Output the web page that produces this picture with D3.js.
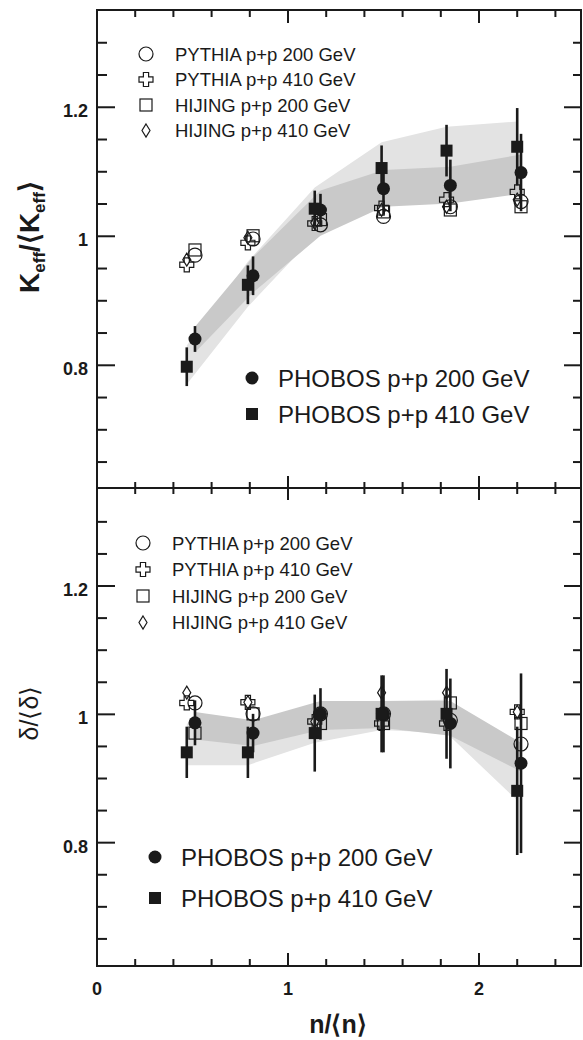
<!DOCTYPE html>
<html>
<head>
<meta charset="utf-8">
<script src="https://cdn.jsdelivr.net/npm/d3@7"></script>
<style>
  body { margin: 0; background: #fff; }
  svg { display: block; font-family: "Liberation Sans", Arial, Helvetica, sans-serif; }
</style>
</head>
<body>
<svg id="chart" width="583" height="1040"></svg>
<script>
// x positions of the multiplicity bins
const xPts200 = [0.513, 0.817, 1.17, 1.50, 1.85, 2.22];
const xPts410 = [0.47, 0.79, 1.14, 1.49, 1.83, 2.20];

// upper panel: K_eff / <K_eff>
const keffPhobos200 = [0.840, 0.938, 1.040, 1.073, 1.078, 1.098];
const keffPhobos200Err = [0.02, 0.03, 0.025, 0.04, 0.04, 0.06];
const keffPhobos410 = [0.797, 0.924, 1.042, 1.105, 1.132, 1.138];
const keffPhobos410Err = [0.03, 0.03, 0.028, 0.035, 0.04, 0.06];
const keffPythia200 = [0.970, 0.995, 1.017, 1.030, 1.045, 1.053];
const keffPythia410 = [0.955, 0.989, 1.019, 1.043, 1.056, 1.068];
const keffHijing200 = [0.978, 1.000, 1.025, 1.037, 1.040, 1.045];
const keffHijing410 = [0.963, 0.997, 1.020, 1.040, 1.045, 1.056];
const keffBand200Lo = [0.819, 0.912, 1.000, 1.045, 1.050, 1.065];
const keffBand200Hi = [0.859, 0.967, 1.070, 1.102, 1.107, 1.126];
const keffBand410Lo = [0.770, 0.890, 1.000, 1.060, 1.090, 1.100];
const keffBand410Hi = [0.830, 0.960, 1.075, 1.145, 1.169, 1.177];

// lower panel: delta / <delta>
const deltaPhobos200 = [0.986, 0.970, 1.000, 1.000, 0.985, 0.923];
const deltaPhobos200Err = [0.035, 0.03, 0.04, 0.06, 0.07, 0.14];
const deltaPhobos410 = [0.940, 0.940, 0.970, 1.000, 1.000, 0.880];
const deltaPhobos410Err = [0.04, 0.04, 0.06, 0.06, 0.07, 0.10];
const deltaPythia200 = [1.017, 1.000, 1.000, 1.000, 0.990, 0.953];
const deltaPythia410 = [1.017, 1.018, 0.988, 0.985, 0.985, 1.003];
const deltaHijing200 = [0.970, 1.000, 0.985, 0.985, 1.017, 0.985];
const deltaHijing410 = [1.033, 1.018, 0.988, 1.033, 1.033, 1.003];
const deltaBand200Lo = [0.960, 0.950, 0.975, 0.978, 0.966, 0.910];
const deltaBand200Hi = [1.003, 0.990, 1.020, 1.020, 1.020, 0.955];
const deltaBand410Lo = [0.920, 0.920, 0.955, 0.975, 0.970, 0.865];
const deltaBand410Hi = [0.985, 0.985, 1.005, 1.020, 1.022, 0.950];

// ticks and labels
const xMinorTicks = [0.2, 0.4, 0.6, 0.8, 1.2, 1.4, 1.6, 1.8, 2.2, 2.4];
const xMajorTicks = [0, 1, 2];
const xTickLabels = ["0", "1", "2"];
const yMinorTicks = [0.65, 0.7, 0.75, 0.85, 0.9, 0.95, 1.05, 1.1, 1.15, 1.25, 1.3];
const yMajorTicks = [0.8, 1.0, 1.2];
const yTickLabels = ["0.8", "1", "1.2"];
const modelLegend = ["PYTHIA p+p 200 GeV", "PYTHIA p+p 410 GeV", "HIJING p+p 200 GeV", "HIJING p+p 410 GeV"];
const phobosLegend = ["PHOBOS p+p 200 GeV", "PHOBOS p+p 410 GeV"];

const ink = "#1a1a1a";
const light = "#e3e3e3";
const dark = "#c9c9c9";

const svg = d3.select("#chart");

const x = d3.scaleLinear().domain([0, 2.534]).range([97, 581]);
const yTop = d3.scaleLinear().domain([0.609, 1.35]).range([488, 10]);
const yBot = d3.scaleLinear().domain([0.607, 1.352]).range([966, 488]);

// marker shapes
const crossPath = (a, l) => `M${-a},${-l}H${a}V${-a}H${l}V${a}H${a}V${l}H${-a}V${a}H${-l}V${-a}H${-a}Z`;
const diamondPath = (w, h) => `M0,${-h}L${w},0L0,${h}L${-w},0Z`;

function drawOpen(g, kind, cx, cy) {
    const m = g.append("g").attr("transform", `translate(${cx},${cy})`)
        .attr("fill", "none").attr("stroke", ink).attr("stroke-width", 1.2);
    if (kind == 0) m.append("circle").attr("r", 7);
    if (kind == 1) m.append("path").attr("d", crossPath(2.6, 7));
    if (kind == 2) m.append("rect").attr("x", -6).attr("y", -6).attr("width", 12).attr("height", 12);
    if (kind == 3) m.append("path").attr("d", diamondPath(4, 6.5));
}

function drawFilled(g, kind, cx, cy) {
    if (kind == 0) g.append("circle").attr("cx", cx).attr("cy", cy).attr("r", 6.5).attr("fill", ink);
    else g.append("rect").attr("x", cx - 6).attr("y", cy - 6).attr("width", 12).attr("height", 12).attr("fill", ink);
}

function drawPanel(cfg) {
    const y = cfg.y;
    const g = svg.append("g");

    // systematic bands: 410 GeV light under 200 GeV dark
    const area = d3.area().x(d => x(d[0])).y0(d => y(d[1])).y1(d => y(d[2]));
    g.append("path").attr("d", area(d3.zip(xPts410, cfg.band410Lo, cfg.band410Hi))).attr("fill", light);
    g.append("path").attr("d", area(d3.zip(xPts200, cfg.band200Lo, cfg.band200Hi))).attr("fill", dark);

    // model points
    const models = [[xPts200, cfg.pythia200], [xPts410, cfg.pythia410], [xPts200, cfg.hijing200], [xPts410, cfg.hijing410]];
    models.forEach((m, k) => m[0].forEach((xv, i) => drawOpen(g, k, x(xv), y(m[1][i]))));

    // PHOBOS data with error bars
    const phobos = [[xPts200, cfg.phobos200, cfg.phobos200Err], [xPts410, cfg.phobos410, cfg.phobos410Err]];
    phobos.forEach(p => p[0].forEach((xv, i) => {
        g.append("line").attr("x1", x(xv)).attr("x2", x(xv))
            .attr("y1", y(p[1][i] - p[2][i])).attr("y2", y(p[1][i] + p[2][i]))
            .attr("stroke", ink).attr("stroke-width", 2.6);
    }));
    phobos.forEach((p, k) => p[0].forEach((xv, i) => drawFilled(g, k, x(xv), y(p[1][i]))));

    // legends
    const lg = g.append("g").attr("font-size", 18.5).attr("fill", ink);
    modelLegend.forEach((t, k) => {
        const ry = cfg.modelLegY[k];
        drawOpen(lg, k, cfg.modelLegX, ry);
        lg.append("text").attr("x", cfg.modelLegX + 29).attr("y", ry).attr("dy", "0.36em").text(t);
    });
    const pg = g.append("g").attr("font-size", 24).attr("fill", ink);
    phobosLegend.forEach((t, k) => {
        const ry = cfg.phobosLegY[k];
        drawFilled(pg, k, cfg.phobosLegX, ry);
        pg.append("text").attr("x", cfg.phobosLegX + 26).attr("y", ry).attr("dy", "0.36em").text(t);
    });

    // y axes: ticks inside on both sides
    const [yb, yt] = y.range();
    g.append("g").attr("transform", `translate(${x.range()[0]},0)`)
        .call(d3.axisRight(y).tickValues(yMinorTicks).tickSize(10).tickFormat(""))
        .call(a => a.select(".domain").remove());
    g.append("g").attr("transform", `translate(${x.range()[0]},0)`)
        .call(d3.axisRight(y).tickValues(yMajorTicks).tickSize(18).tickFormat(""))
        .call(a => a.select(".domain").remove());
    g.append("g").attr("transform", `translate(${x.range()[1]},0)`)
        .call(d3.axisLeft(y).tickValues(yMinorTicks).tickSize(8).tickFormat(""))
        .call(a => a.select(".domain").remove());
    g.append("g").attr("transform", `translate(${x.range()[1]},0)`)
        .call(d3.axisLeft(y).tickValues(yMajorTicks).tickSize(17).tickFormat(""))
        .call(a => a.select(".domain").remove());

    g.selectAll(".tick line").attr("stroke", ink).attr("stroke-width", 2);

    g.append("g").selectAll("text").data(yMajorTicks).join("text")
        .attr("x", 88).attr("y", d => y(d) + 4).attr("dy", "0.36em")
        .attr("text-anchor", "end").attr("font-size", 18).attr("font-weight", "bold").attr("fill", ink)
        .text((d, i) => yTickLabels[i]);

    g.append("rect").attr("x", x.range()[0]).attr("y", yt)
        .attr("width", x.range()[1] - x.range()[0]).attr("height", yb - yt)
        .attr("fill", "none").attr("stroke", ink).attr("stroke-width", 2);

    return g;
}

drawPanel({
    y: yTop,
    phobos200: keffPhobos200, phobos200Err: keffPhobos200Err,
    phobos410: keffPhobos410, phobos410Err: keffPhobos410Err,
    pythia200: keffPythia200, pythia410: keffPythia410,
    hijing200: keffHijing200, hijing410: keffHijing410,
    band200Lo: keffBand200Lo, band200Hi: keffBand200Hi,
    band410Lo: keffBand410Lo, band410Hi: keffBand410Hi,
    modelLegX: 146, modelLegY: [54, 79.5, 105, 130.5],
    phobosLegX: 252, phobosLegY: [378, 414]
});

drawPanel({
    y: yBot,
    phobos200: deltaPhobos200, phobos200Err: deltaPhobos200Err,
    phobos410: deltaPhobos410, phobos410Err: deltaPhobos410Err,
    pythia200: deltaPythia200, pythia410: deltaPythia410,
    hijing200: deltaHijing200, hijing410: deltaHijing410,
    band200Lo: deltaBand200Lo, band200Hi: deltaBand200Hi,
    band410Lo: deltaBand410Lo, band410Hi: deltaBand410Hi,
    modelLegX: 143, modelLegY: [543, 569.5, 596, 622.5],
    phobosLegX: 155, phobosLegY: [857, 898]
});

// x ticks: top edge (down), shared divider (both ways), bottom (up)
const xt = svg.append("g");
function xTickRow(yPos, ticks, up, down) {
    xt.append("g").selectAll("line").data(ticks).join("line")
        .attr("x1", d => x(d)).attr("x2", d => x(d))
        .attr("y1", yPos - up).attr("y2", yPos + down)
        .attr("stroke", ink).attr("stroke-width", 2);
}
xTickRow(10, xMinorTicks, 0, 7);
xTickRow(10, xMajorTicks.slice(1), 0, 13);
xTickRow(488, xMinorTicks, 6, 6);
xTickRow(488, xMajorTicks.slice(1), 12, 12);
xTickRow(966, xMinorTicks, 7, 0);
xTickRow(966, xMajorTicks.slice(1), 13, 0);

xt.append("g").selectAll("text").data(xMajorTicks).join("text")
    .attr("x", d => x(d)).attr("y", 995)
    .attr("text-anchor", "middle").attr("font-size", 18).attr("font-weight", "bold").attr("fill", ink)
    .text((d, i) => xTickLabels[i]);

// axis titles
const keffLabel = svg.append("text")
    .attr("transform", "translate(39,237) rotate(-90)")
    .attr("text-anchor", "middle").attr("font-size", 28).attr("font-weight", "bold").attr("fill", ink);
keffLabel.append("tspan").text("K");
keffLabel.append("tspan").attr("font-size", 17).attr("dy", 6).text("eff");
keffLabel.append("tspan").attr("dy", -6).text("/\u27E8K");
keffLabel.append("tspan").attr("font-size", 17).attr("dy", 6).text("eff");
keffLabel.append("tspan").attr("dy", -6).text("\u27E9");

svg.append("text")
    .attr("transform", "translate(38,713) rotate(-90)")
    .attr("text-anchor", "middle").attr("font-size", 25).attr("fill", ink)
    .text("\u03B4/\u27E8\u03B4\u27E9");

svg.append("text")
    .attr("x", 338).attr("y", 1033)
    .attr("text-anchor", "middle").attr("font-size", 25).attr("font-weight", "bold").attr("fill", ink)
    .text("n/\u27E8n\u27E9");
</script>
</body>
</html>
